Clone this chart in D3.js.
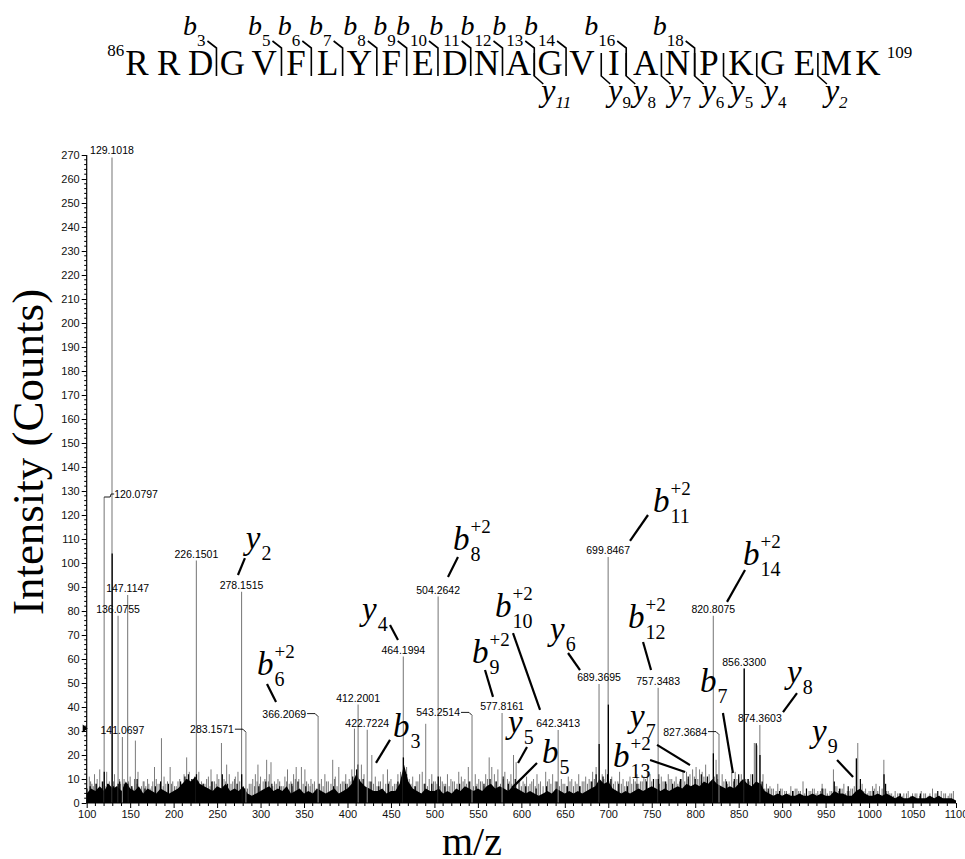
<!DOCTYPE html>
<html><head><meta charset="utf-8">
<script src="https://cdn.jsdelivr.net/npm/d3@7"></script>
<style>body{margin:0;background:#fff}</style>
</head><body>
<svg id="c" width="965" height="859"></svg>
<script>
// ---------------- DATA ----------------
const sequence = ["R","R","D","G","V","F","L","Y","F","E","D","N","A","G","V","I","A","N","P","K","G","E","M","K"];
const seqStart = "86", seqEnd = "109";
const bIons = [3,5,6,7,8,9,10,11,12,13,14,16,18];
const yIons = [11,9,8,7,6,5,4,2];

const xTickValues = d3.range(100, 1101, 50);
const yTickValues = d3.range(0, 271, 10);

// labeled centroid peaks (gray sticks)
const peakMz  = [129.1018,120.0797,136.0755,147.1147,141.0697,226.1501,278.1515,283.1571,366.2069,412.2001,422.7224,464.1994,504.2642,543.2514,577.8161,642.3413,689.3695,699.8467,757.3483,820.8075,827.3684,856.3300,874.3603];
const peakInt = [269,127.5,78,86.7,27.5,101,88,29.5,36,41,30.5,61,86,36.5,37.5,30.4,49.6,102.5,48,78,28.5,56,32.5];
const peakLabelSide = ["top","right","top","top","top","top","top","left","left","top","top","top","top","left","top","top","top","top","top","top","left","top","top"];

// black profile spikes (main)
const profileMz  = [129.3,120.2,464.3,410.5,700.1,689.5,820.9,856.4,870.2,874.5,985.4,1017.2,226.3,278.3,504.4,136.2,147.2,215,224,757.5,699.2];
const profileInt = [104,13,19,14,41,24.6,20.7,56,24.9,20,18.6,12,12,12,11,8,8,10,9,10,12];

// small black noise spikes [m/z, intensity]
const blackNoise = [[104,7],[111,8],[118,9],[124,8],[131,7],[138,9],[144,8],[152,7],[158,10],[167,6],[179,7],[185,9],[194,8],[208,9],[213,11],[217,12],[221,10],[228,9],[234,8],[244,9],[256,12],[262,8],[273,8],[282,6],[298,7],[306,9],[313,8],[322,7],[336,8],[343,9],[352,7],[367,8],[384,7],[398,8],[406,11],[412,16],[418,10],[427,9],[436,7],[447,8],[458,9],[468,12],[478,7],[489,8],[497,8],[512,7],[529,8],[540,9],[548,7],[557,8],[564,10],[571,9],[579,11],[585,8],[593,10],[605,7],[617,6],[629,7],[641,9],[653,7],[667,7],[681,9],[686,12],[694,11],[703,10],[712,8],[722,7],[733,8],[744,9],[752,10],[758,12],[766,9],[774,8],[783,10],[792,11],[800,10],[807,12],[814,11],[825,12],[836,9],[845,10],[850,12],[861,10],[866,12],[877,9],[884,6],[897,5],[912,5],[928,6],[946,6],[960,9],[966,6],[976,7],[990,10],[1005,5],[1019,8],[1036,4],[1059,4],[1079,5]];

// minor gray sticks (taller noise)
const minorMz  = [103,106,109,112,115,117,123,126,132,134,139,143,145,150,153,156,159,163,166,170,173,176,178,182,186,189,191,196,199,203,207,212,215,218,221,229,232,236,240,243,247,250,255,258,261,264,268,271,274,287,291,294,297,300,303,307,310,312,316,320,324,328,331,335,338,341,344,347,351,355,358,362,370,374,378,383,386,390,394,398,402,405,408,416,419,428,432,436,441,446,450,454,458,461,468,471,475,479,483,486,490,494,497,501,507,511,515,519,523,528,531,535,539,547,551,555,559,563,566,569,573,581,584,588,591,594,598,602,606,610,614,618,622,628,632,636,646,650,654,658,662,666,670,674,678,682,686,693,697,704,708,713,717,721,725,729,733,737,741,745,748,752,761,765,769,773,778,782,786,790,794,797,801,805,808,812,816,824,831,835,839,842,846,850,853,860,864,868,871,878,882,886,890,895,900,905,910,915,919,924,928,933,937,941,946,950,955,959,963,967,971,975,979,983,987,992,996,1000,1004,1008,1012,1017,1022,1026,1030,1035,1040,1045,1050,1055,1060,1065,1070,1073,1078,1083,1088,1093,1097];
const minorInt = [11,8,12,10,14,6,13,9,12,7,8,10,7,11,6,26,13,7,9,10,6,9,15,8,27,11,8,15,9,7,10,12,19,13,10,13,9,8,11,14,9,12,25,10,16,12,9,11,13,8,10,12,16,11,9,18,12,17,9,10,7,11,14,9,12,15,10,15,14,8,10,9,10,12,9,18,11,15,9,12,10,14,31,16,12,20,11,9,12,14,10,8,12,13,15,10,11,9,12,13,33,10,12,9,11,8,12,10,9,13,11,10,15,12,10,9,12,19,15,12,14,13,10,12,20,17,10,9,11,8,10,12,9,13,10,12,10,8,11,10,9,12,9,11,10,13,15,12,14,11,9,13,10,9,11,10,12,9,11,13,12,10,11,9,12,10,11,9,13,13,12,14,15,14,13,16,12,18,12,10,9,13,13,11,12,10,12,25,24,12,8,7,6,8,6,5,7,6,5,9,6,5,6,5,8,6,5,14,7,6,8,5,6,7,25,8,6,5,7,8,7,18,5,4,5,4,4,5,4,4,5,4,4,6,4,5,4,4,5];

// lower gray noise sticks [m/z, intensity]
const grayNoise = [[101,6],[104.5,9],[107.5,7],[110.5,8],[113.5,6],[119,9],[121,7],[125,8],[128,6],[131,9],[135,7],[137.5,10],[142,8],[148,9],[151.5,7],[155,10],[158,8],[161,6],[165,9],[168,7],[171.5,8],[175,7],[180,10],[184,8],[188,7],[193,9],[197.5,8],[201,7],[205,9],[209,8],[214,10],[217,9],[224,11],[227,9],[234,8],[238,10],[242,7],[245,9],[249,8],[252,10],[257,7],[260,9],[266,8],[270,10],[276,9],[280,7],[285,6],[289,8],[293,7],[296,9],[299,8],[305,10],[309,9],[314,7],[318,8],[322,9],[326,7],[330,9],[333,8],[337,7],[340,10],[349,8],[353,9],[357,7],[360,8],[364,6],[368,8],[372,7],[376,9],[381,8],[385,10],[388,7],[392,8],[396,9],[400,8],[404,9],[411,12],[414,10],[418,8],[425,9],[430,8],[434,7],[438,9],[444,8],[448,9],[452,7],[456,8],[463,11],[466,10],[473,8],[477,7],[481,9],[488,8],[492,7],[499,9],[503,8],[506,7],[509,9],[513,8],[517,7],[521,9],[526,8],[533,9],[537,8],[541,9],[545,7],[549,8],[553,9],[557,7],[561,10],[571,9],[576,8],[579,10],[586,9],[589,8],[597,9],[600,7],[604,8],[608,7],[612,9],[616,7],[620,8],[625,7],[630,9],[634,8],[639,9],[644,7],[648,8],[652,7],[656,9],[660,7],[664,8],[668,7],[672,9],[676,8],[680,9],[684,10],[691,9],[695,10],[702,9],[706,8],[711,9],[715,8],[719,7],[723,9],[727,8],[731,9],[735,8],[739,9],[743,10],[750,9],[755,10],[759,8],[763,9],[767,8],[771,10],[776,9],[780,8],[784,10],[788,9],[792,10],[799,11],[803,10],[807,9],[810,11],[814,10],[818,9],[822,11],[826,10],[833,9],[837,8],[844,9],[848,10],[852,9],[858,10],[862,9],[866,10],[876,8],[880,6],[884,5],[888,6],[893,5],[898,6],[903,5],[908,4],[913,5],[917,6],[921,5],[926,4],[931,5],[935,6],[939,4],[944,5],[948,6],[952,4],[957,5],[961,7],[965,5],[969,6],[973,4],[977,5],[981,6],[990,7],[994,5],[998,4],[1002,5],[1006,6],[1010,5],[1015,6],[1020,5],[1024,4],[1028,3],[1033,4],[1038,3],[1043,4],[1048,3],[1053,4],[1058,3],[1063,4],[1068,3],[1076,4],[1081,3],[1086,4],[1091,3],[1095,4]];

// black baseline band, one level every 5 m/z from 100 to 1100
const bandMz = d3.range(100, 1101, 5);
const bandLevel = [
 4,6,5,7,5,8,6,7,5,9,6,5,7,4,6,5,4,6,5,4,
 5,6,8,10,9,11,8,7,6,5,7,6,8,5,6,5,7,4,3,4,
 5,6,7,5,6,5,7,4,5,6,4,5,4,6,5,4,5,6,4,5,
 6,8,12,9,7,6,5,5,6,4,5,5,8,16,9,6,5,4,6,5,
 5,6,4,5,4,6,5,7,6,5,6,5,7,8,6,7,6,5,7,6,
 5,4,5,4,3,4,5,4,6,5,4,5,4,5,4,5,6,7,10,8,
 9,6,5,4,5,4,5,6,5,6,7,6,5,6,5,6,7,6,8,7,
 8,7,9,8,10,8,7,6,7,6,8,10,8,7,9,8,5,4,3,4,
 3,4,3,3,4,3,3,4,3,4,3,3,5,4,4,3,3,5,6,4,
 3,3,4,3,4,3,2,3,2,2,3,2,2,2,3,2,3,2,2,2,
 1];

// fragment-ion annotations inside the plot (data coordinates)
const ionLabels = [
  {ion:"y", sub:"2",  sup:"",   mz:283, int:106, lead:[282,102,274,95]},
  {ion:"b", sub:"6",  sup:"+2", mz:295.9, int:53.3, lead:[307.4,49.6,317.8,42.1]},
  {ion:"y", sub:"4",  sup:"",   mz:416.7, int:76.3, lead:[448.9,74.2,458.1,67.9]},
  {ion:"b", sub:"3",  sup:"",   mz:452.4, int:27.5, lead:[448.9,26.3,432.8,16.7]},
  {ion:"b", sub:"8",  sup:"+2", mz:521.4, int:105.4, lead:[527.1,102.5,515.6,94.2]},
  {ion:"b", sub:"10", sup:"+2", mz:569.7, int:77.5, lead:[590.4,70.8,621.5,38.8]},
  {ion:"b", sub:"9",  sup:"+2", mz:543.2, int:58.3, lead:[558.2,55.4,567.4,44.2]},
  {ion:"y", sub:"5",  sup:"",   mz:584.7, int:29.2, lead:[606.5,23.3,596.2,16.7]},
  {ion:"b", sub:"5",  sup:"",   mz:623.8, int:16.7, lead:[618.0,16.7,589.3,6.3]},
  {ion:"y", sub:"6",  sup:"",   mz:633.0, int:67.9, lead:[653.7,62.5,667.5,55.4]},
  {ion:"b", sub:"11", sup:"+2", mz:751.4, int:121.3, lead:[745.7,120,725.0,109.2]},
  {ion:"b", sub:"12", sup:"+2", mz:722.7, int:72.9, lead:[740.0,67.1,749.2,55.4]},
  {ion:"y", sub:"7",  sup:"",   mz:725.0, int:31.7, lead:[756.1,24.2,794.0,15.8]},
  {ion:"b", sub:"13", sup:"+2", mz:705.5, int:15.0, lead:[748.1,17.9,788.4,12.9]},
  {ion:"b", sub:"7",  sup:"",   mz:805.5, int:46.3, lead:[831.9,37.5,843.4,12.5]},
  {ion:"b", sub:"14", sup:"+2", mz:855.0, int:99.2, lead:[857.3,97.1,836.6,83.8]},
  {ion:"y", sub:"8",  sup:"",   mz:905.6, int:50.0, lead:[917.1,45.8,901.0,37.9]},
  {ion:"y", sub:"9",  sup:"",   mz:934.4, int:25.4, lead:[963.2,17.9,981.6,10.8]}
];

// ---------------- DRAW ----------------
const svg = d3.select("#c");
const x = d3.scaleLinear().domain([100,1100]).range([86.7,956]);
const y = d3.scaleLinear().domain([0,270]).range([803,155]);
const serif = "'Liberation Serif','Times New Roman',serif";
const sans = "'Liberation Sans',Arial,sans-serif";

function sticks(data, color, width) {
  svg.append("g").selectAll("line").data(data).join("line")
    .attr("x1", d=>x(d[0])).attr("x2", d=>x(d[0]))
    .attr("y1", y(0)).attr("y2", d=>y(d[1]))
    .attr("stroke", color).attr("stroke-width", width);
}

sticks(d3.zip(minorMz, minorInt), "#7a7a7a", 1);
sticks(grayNoise, "#6e6e6e", 1);
svg.append("path").datum(d3.zip(bandMz, bandLevel))
  .attr("d", d3.area().x(d=>x(d[0])).y0(y(0)).y1(d=>y(d[1])))
  .attr("fill","#000");
sticks(blackNoise, "#000", 1.2);
sticks(d3.zip(peakMz, peakInt), "#808080", 1.1);
sticks(d3.zip(profileMz, profileInt), "#000", 1.3);

// peak labels
const lg = svg.append("g").attr("font-family", sans).attr("font-size", 10.5).attr("fill","#000");
peakMz.forEach((mz,i)=>{
  const px = x(mz), py = y(peakInt[i]);
  const txt = mz.toFixed(4);
  const side = peakLabelSide[i];
  if (side === "top") {
    lg.append("text").attr("x", px).attr("y", py-3).attr("text-anchor","middle").text(txt);
  } else if (side === "left") {
    lg.append("text").attr("x", px-12).attr("y", py+1).attr("text-anchor","end").text(txt);
    svg.append("polyline").attr("points", `${px-11},${py-3} ${px-3},${py-3} ${px},${py}`)
      .attr("fill","none").attr("stroke","#000").attr("stroke-width",0.9);
  } else {
    lg.append("text").attr("x", px+10).attr("y", py+1).attr("text-anchor","start").text(txt);
    svg.append("polyline").attr("points", `${px},${py} ${px+6},${py} ${px+7},${py-3} ${px+10},${py-3}`)
      .attr("fill","none").attr("stroke","#000").attr("stroke-width",0.9);
  }
});

// axes
const yAxis = d3.axisLeft(y).tickValues(yTickValues).tickSize(5).tickPadding(2).tickFormat(d3.format("d"));
const gy = svg.append("g").attr("transform", `translate(${x(100)},0)`).call(yAxis);
const xAxis = d3.axisBottom(x).tickValues(xTickValues).tickSize(5).tickPadding(2).tickFormat(d3.format("d"));
const gx = svg.append("g").attr("transform", `translate(0,${y(0)})`).call(xAxis);
[gx, gy].forEach(g=>{
  g.select(".domain").attr("stroke","#000").attr("stroke-width",1.2);
  g.selectAll(".tick line").attr("stroke","#000");
  g.selectAll(".tick text").attr("font-family", sans).attr("font-size", 11).attr("fill","#111");
});
gx.select(".domain").attr("d", `M${x(100)},0H${x(1100)}`);
gy.select(".domain").attr("d", `M0,${y(270)}V${y(0)}`);
svg.append("g").selectAll("line").data(d3.range(100,1100,10).filter(v=>v%50)).join("line")
  .attr("x1", d=>x(d)).attr("x2", d=>x(d)).attr("y1", y(0)).attr("y2", y(0)+3).attr("stroke","#000");
svg.append("g").selectAll("line").data(d3.range(0,270,2).filter(v=>v%10)).join("line")
  .attr("x1", x(100)).attr("x2", x(100)-2.5).attr("y1", d=>y(d)).attr("y2", d=>y(d)).attr("stroke","#000");
svg.append("path").attr("d", `M${x(100)-4},${y(31)-4} L${x(100)+1},${y(31)} L${x(100)-4},${y(31)+4} Z`).attr("fill","#000");

// axis titles
svg.append("text").attr("transform","translate(43,452) rotate(-90)").attr("text-anchor","middle")
  .attr("font-family", serif).attr("font-size", 45).text("Intensity (Counts)");
svg.append("text").attr("x",472).attr("y",855).attr("text-anchor","middle")
  .attr("font-family", serif).attr("font-size", 40).text("m/z");

// ion annotations in plot
const ag = svg.append("g");
ionLabels.forEach(a=>{
  const px = x(a.mz), py = y(a.int);
  const base = ag.append("text").attr("x",px).attr("y",py).attr("font-family",serif)
    .attr("font-style","italic").attr("font-size",33).text(a.ion);
  const w = base.node().getComputedTextLength();
  ag.append("text").attr("x",px+w+1).attr("y",py+11).attr("font-family",serif).attr("font-size",20).text(a.sub);
  if (a.sup) ag.append("text").attr("x",px+w+1).attr("y",py-17).attr("font-family",serif).attr("font-size",19).text(a.sup);
  ag.append("line").attr("x1",x(a.lead[0])).attr("y1",y(a.lead[1])).attr("x2",x(a.lead[2])).attr("y2",y(a.lead[3]))
    .attr("stroke","#000").attr("stroke-width",2.2);
});

// ---------------- sequence header ----------------
const sg = svg.append("g").attr("font-family", serif);
const seqX = d3.scaleLinear().domain([0, sequence.length-1]).range([137, 868]);
const letterW = [];
sequence.forEach((s,i)=>{
  const t = sg.append("text").attr("x", seqX(i)).attr("y", 75).attr("text-anchor","middle").attr("font-size",35).text(s);
  letterW.push(t.node().getComputedTextLength());
});
sg.append("text").attr("x", seqX(0)-letterW[0]/2-1).attr("y", 56).attr("text-anchor","end").attr("font-size",17).text(seqStart);
sg.append("text").attr("x", seqX(sequence.length-1)+letterW[sequence.length-1]/2+6).attr("y", 58).attr("font-size",17).text(seqEnd);
const splitX = i => ((seqX(i-1)+letterW[i-1]/2) + (seqX(i)-letterW[i]/2))/2;
bIons.forEach(n=>{
  const sx = splitX(n);
  sg.append("polyline").attr("points", `${sx-9},41 ${sx},48 ${sx},76`).attr("fill","none").attr("stroke","#000").attr("stroke-width",1.6);
  const t = sg.append("text").attr("x", sx-11).attr("y", 35).attr("text-anchor","end");
  t.append("tspan").attr("font-style","italic").attr("font-size",28).text("b");
  t.append("tspan").attr("font-size",17).attr("dy",11).text(n);
});
yIons.forEach(n=>{
  const sx = splitX(sequence.length-n);
  sg.append("polyline").attr("points", `${sx},53 ${sx},76 ${sx+9},84`).attr("fill","none").attr("stroke","#000").attr("stroke-width",1.6);
  const t = sg.append("text").attr("x", sx+7).attr("y", 101);
  t.append("tspan").attr("font-style","italic").attr("font-size",32).text("y");
  t.append("tspan").attr("font-size",17).attr("dy",7).attr("font-style", n===11||n===2?"italic":"normal").text(n);
});
</script>
</body></html>
